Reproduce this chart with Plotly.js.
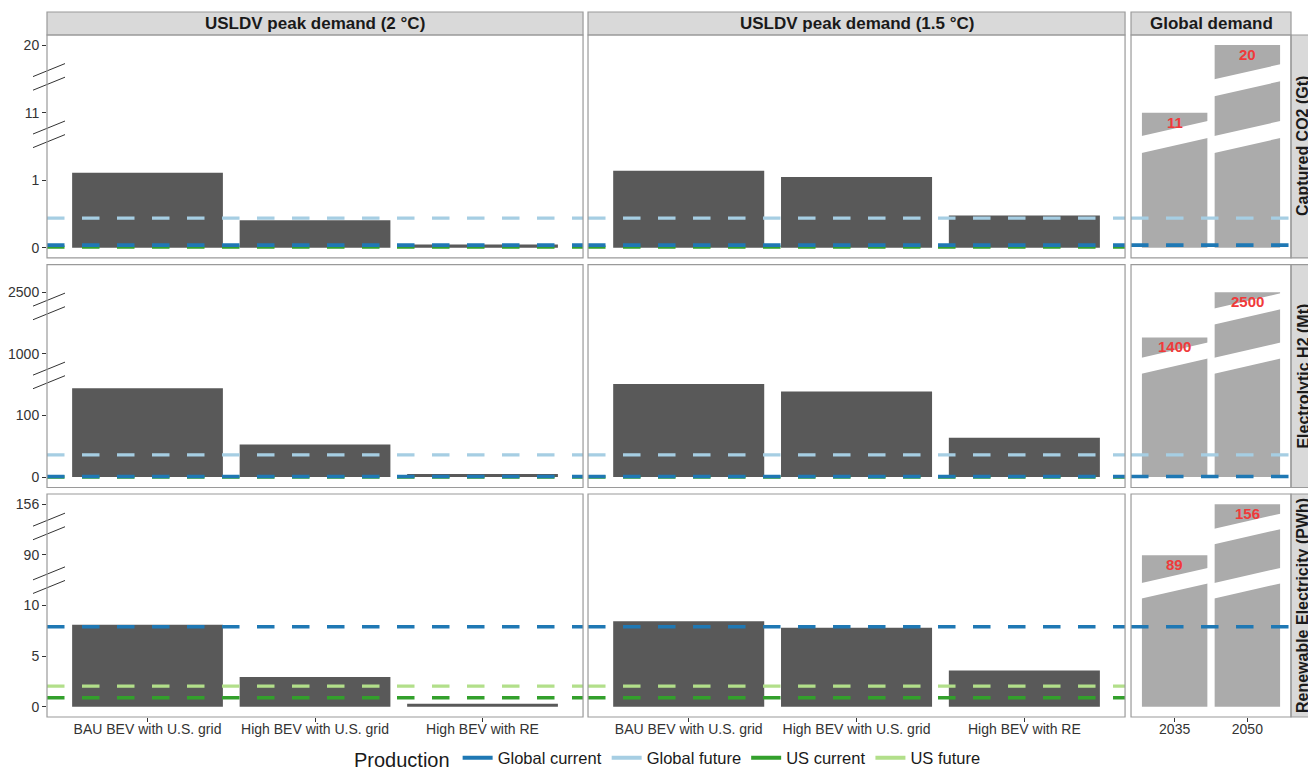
<!DOCTYPE html>
<html>
<head>
<meta charset="utf-8">
<script src="https://cdn.plot.ly/plotly-3.0.1.min.js"></script>
<style>html,body{margin:0;padding:0;background:#fff}#chart{width:1308px;height:773px}</style>
</head>
<body>
<div id="chart"></div>
<script>
// ---------------- data ----------------
const scenarios = ["BAU BEV with U.S. grid", "High BEV with U.S. grid", "High BEV with RE"];
const years = ["2035", "2050"];
const columnTitles = ["USLDV peak demand (2 °C)", "USLDV peak demand (1.5 °C)", "Global demand"];
const rowTitles = ["Captured CO2 (Gt)", "Electrolytic H2 (Mt)", "Renewable Electricity (PWh)"];

// USLDV peak demand, 2 °C scenario
const co2_2C = [1.11, 0.41, 0.05];
const h2_2C = [144, 53, 5];
const elec_2C = [8.1, 2.95, 0.3];
// USLDV peak demand, 1.5 °C scenario
const co2_15C = [1.14, 1.05, 0.48];
const h2_15C = [151, 139, 64];
const elec_15C = [8.45, 7.8, 3.6];
// Global demand
const co2_global = [11, 20];
const h2_global = [1400, 2500];
const elec_global = [89, 156];
const co2_globalLabels = ["11", "20"];
const h2_globalLabels = ["1400", "2500"];
const elec_globalLabels = ["89", "156"];

// Production reference levels: Global current, Global future, US current, US future
const productionNames = ["Global current", "Global future", "US current", "US future"];
const co2_production = [0.04, 0.44, 0.01, null];
const h2_production = [1, 36, 0, null];
const elec_production = [7.9, null, 0.9, 2.05];

// y-axis tick values (broken axes)
const co2_ticks = [0, 1, 11, 20];
const h2_ticks = [0, 100, 1000, 2500];
const elec_ticks = [0, 5, 10, 90, 156];

// ---------------- styling / scale config ----------------
const FONT = "Liberation Sans, Arial, sans-serif";
const productionColors = ["#1f78b4", "#a6cee3", "#33a02c", "#b2df8a"];
const productionWidths = [3.6, 3.2, 3.4, 3.2];
const productionGlobal = [true, true, false, false];
const drawOrder = [2, 3, 1, 0];

// piecewise-linear broken-axis scales per row: [value, axis unit]
const scaleKnots = [
  [[0, 0], [1.6, 1.6], [11, 2], [20, 3]],
  [[0, 0], [160, 1.6], [1000, 2], [2500, 3]],
  [[0, 0], [12.5, 2.5], [90, 3], [156, 4]]
];
const yRanges = [[-0.15, 3.15], [-0.17, 3.45], [-0.2, 4.2]];
const axisBreaks = [[1.68, 2.53], [1.65, 2.77], [2.50, 3.56]];
const barCuts = [[1.64, 2.48], [1.93, 2.73], [2.44, 3.51]];
const barCutHeights = [17, 16, 15.5];

const colDomains = [[0, 0.4309], [0.4349, 0.8666], [0.8714, 1]];
const rowDomains = [[0.6511, 0.9674], [0.3255, 0.6418], [0, 0.3163]];

function tf(row, v) {
  if (v === null || v === undefined) return null;
  const k = scaleKnots[row];
  let i = 0;
  while (i < k.length - 2 && v > k[i + 1][0]) i++;
  const [v0, u0] = k[i], [v1, u1] = k[i + 1];
  return u0 + (v - v0) * (u1 - u0) / (v1 - v0);
}

const usValues = [[co2_2C, co2_15C], [h2_2C, h2_15C], [elec_2C, elec_15C]];
const globalValues = [co2_global, h2_global, elec_global];
const globalLabels = [co2_globalLabels, h2_globalLabels, elec_globalLabels];
const productionLevels = [co2_production, h2_production, elec_production];
const tickSets = [co2_ticks, h2_ticks, elec_ticks];

const xid = c => (c === 0 ? "x" : "x" + (c + 1));
const yid = r => (r === 0 ? "y" : "y" + (r + 1));
const axName = id => id.replace("x", "xaxis").replace("y", "yaxis");

const traces = [];
const shapes = [];
const annotations = [];

for (let r = 0; r < 3; r++) {
  for (let c = 0; c < 2; c++) {
    traces.push({
      type: "bar", x: scenarios.map((s, i) => i + 1), y: usValues[r][c].map(v => tf(r, v)),
      width: 0.9, marker: { color: "#595959", line: { width: 0 } },
      xaxis: xid(c), yaxis: yid(r), showlegend: false, hoverinfo: "skip"
    });
  }
  traces.push({
    type: "bar", x: years.map((s, i) => i + 1), y: globalValues[r].map(v => tf(r, v)),
    width: 0.9, marker: { color: "#ababab", line: { width: 0 } },
    xaxis: "x3", yaxis: yid(r), showlegend: false, hoverinfo: "skip"
  });
  globalValues[r].forEach((v, i) => {
    const top = tf(r, v);
    const xc = i + 1;
    const h = barCutHeights[r];
    barCuts[r].forEach(cu => {
      if (cu < top) {
        shapes.push({
          type: "path", xref: "x3", yref: yid(r), ysizemode: "pixel", yanchor: cu,
          path: `M${xc - 0.5},${-8.3 - h / 2} L${xc + 0.5},${8.3 - h / 2} L${xc + 0.5},${8.3 + h / 2} L${xc - 0.5},${-8.3 + h / 2} Z`,
          fillcolor: "#ffffff", line: { width: 0 }, layer: "above"
        });
      }
    });
    annotations.push({
      xref: "x3", yref: yid(r), x: xc, y: top, yanchor: "top", yshift: 1, showarrow: false,
      text: globalLabels[r][i], font: { family: FONT, size: 15, color: "#f03a3a", weight: "bold" }
    });
  });
  drawOrder.forEach(p => {
    const v = productionLevels[r][p];
    if (v === null) return;
    const cols = productionGlobal[p] ? [0, 1, 2] : [0, 1];
    cols.forEach(c => {
      shapes.push({
        type: "line", xref: xid(c) + " domain", yref: yid(r), x0: 0, x1: 1, y0: tf(r, v), y1: tf(r, v),
        line: { color: productionColors[p], width: productionWidths[p], dash: "17.5px,17.5px" }, layer: "above"
      });
    });
  });
  axisBreaks[r].forEach(b => {
    [-6.8, 6.8].forEach(off => {
      shapes.push({
        type: "line", xref: "paper", xsizemode: "pixel", xanchor: 0, x0: -14, x1: 18,
        yref: yid(r), ysizemode: "pixel", yanchor: b, y0: -6.5 + off, y1: 6.5 + off,
        line: { color: "#333333", width: 1 }, layer: "above"
      });
    });
  });
}

for (let r = 0; r < 3; r++) {
  for (let c = 0; c < 3; c++) {
    shapes.push({
      type: "rect", xref: "paper", yref: "paper",
      x0: colDomains[c][0], x1: colDomains[c][1], y0: rowDomains[r][0], y1: rowDomains[r][1],
      line: { color: "#9a9a9a", width: 1.2 }, fillcolor: "rgba(0,0,0,0)", layer: "above"
    });
  }
  shapes.push({
    type: "rect", xref: "paper", yref: "paper", x0: 1, x1: 1.03, y0: rowDomains[r][0], y1: rowDomains[r][1],
    line: { color: "#9a9a9a", width: 1.2 }, fillcolor: "#d9d9d9", layer: "below"
  });
  annotations.push({
    xref: "paper", yref: "paper", x: 1.0093, y: (rowDomains[r][0] + rowDomains[r][1]) / 2,
    xanchor: "center", yanchor: "middle", textangle: -90, showarrow: false,
    text: rowTitles[r], font: { family: FONT, size: 16, color: "#1a1a1a", weight: "bold" }
  });
}
for (let c = 0; c < 3; c++) {
  shapes.push({
    type: "rect", xref: "paper", yref: "paper", x0: colDomains[c][0], x1: colDomains[c][1],
    y0: rowDomains[0][1], y1: 1, line: { color: "#9a9a9a", width: 1.2 }, fillcolor: "#d9d9d9", layer: "below"
  });
  annotations.push({
    xref: "paper", yref: "paper", x: (colDomains[c][0] + colDomains[c][1]) / 2, y: (rowDomains[0][1] + 1) / 2,
    xanchor: "center", yanchor: "middle", showarrow: false,
    text: columnTitles[c], font: { family: FONT, size: 17, color: "#1a1a1a", weight: "bold" }
  });
}

productionNames.forEach((n, p) => {
  traces.push({
    type: "scatter", mode: "lines", x: [null], y: [null], name: n,
    line: { color: productionColors[p], width: 4 }, xaxis: "x", yaxis: "y", hoverinfo: "skip"
  });
});

const layout = {
  width: 1308, height: 773,
  paper_bgcolor: "#ffffff", plot_bgcolor: "#ffffff",
  margin: { l: 47, r: 17, t: 12, b: 56, autoexpand: false },
  font: { family: FONT, color: "#333333" },
  showlegend: true,
  legend: {
    orientation: "h", x: 0.5, xanchor: "center", y: -0.059, yanchor: "middle",
    title: { text: "Production", font: { family: FONT, size: 20, color: "#1a1a1a" }, side: "left" },
    font: { family: FONT, size: 16.5, color: "#1a1a1a" }, bgcolor: "rgba(0,0,0,0)", traceorder: "normal",
    itemwidth: 30
  },
  shapes: shapes,
  annotations: annotations
};

for (let c = 0; c < 3; c++) {
  const cats = c < 2 ? scenarios : years;
  layout[axName(xid(c))] = {
    domain: colDomains[c], anchor: "y3", range: [0.4, cats.length + 0.6],
    tickmode: "array", tickvals: cats.map((s, i) => i + 1), ticktext: cats,
    ticks: "outside", ticklen: 4, tickwidth: 1, tickcolor: "#333333", ticklabelstandoff: -5,
    tickfont: { family: FONT, size: 14, color: "#333333" },
    showgrid: false, zeroline: false, showline: false, fixedrange: true
  };
}
for (let r = 0; r < 3; r++) {
  layout[axName(yid(r))] = {
    domain: rowDomains[r], anchor: "x", range: yRanges[r],
    tickmode: "array", tickvals: tickSets[r].map(v => tf(r, v)), ticktext: tickSets[r].map(String),
    ticks: "outside", ticklen: 4, tickwidth: 1, tickcolor: "#333333",
    tickfont: { family: FONT, size: 14, color: "#333333" },
    showgrid: false, zeroline: false, showline: false, fixedrange: true
  };
}

Plotly.newPlot("chart", traces, layout, { staticPlot: true, displayModeBar: false });
</script>
</body>
</html>
